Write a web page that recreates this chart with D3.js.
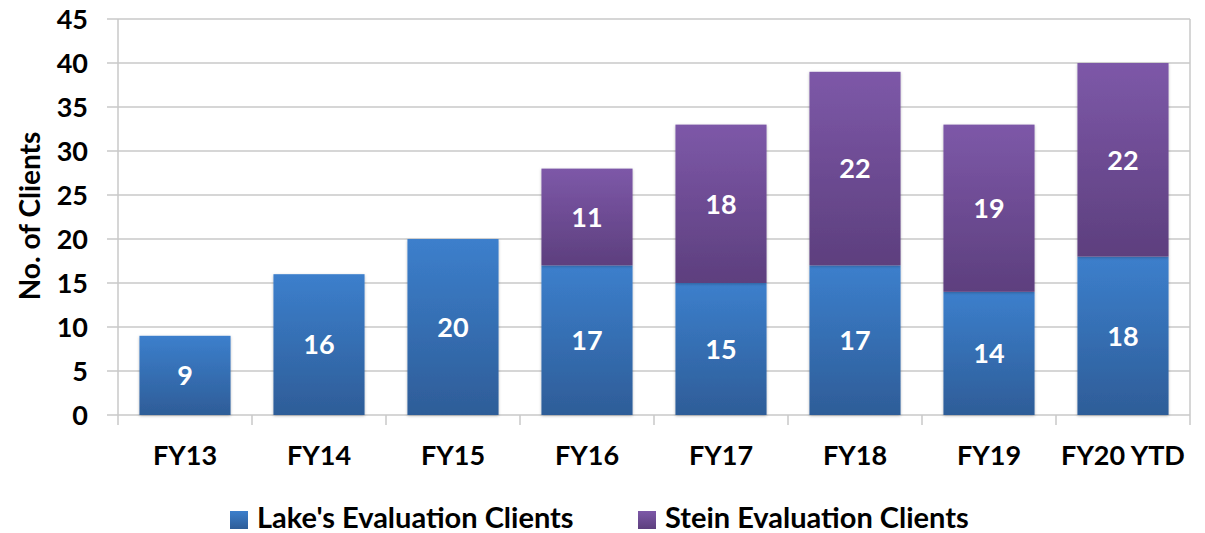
<!DOCTYPE html>
<html>
<head>
<meta charset="utf-8">
<script src="https://cdn.jsdelivr.net/npm/d3@7"></script>
<style>
  body { margin: 0; background: #fff; }
  text { font-family: Lato, "Open Sans", sans-serif; font-weight: 700; }
</style>
</head>
<body>
<div class="chart"></div>
<script>
// chart data
const categories = ["FY13", "FY14", "FY15", "FY16", "FY17", "FY18", "FY19", "FY20 YTD"];
const lakeValues = [9, 16, 20, 17, 15, 17, 14, 18];
const steinValues = [0, 0, 0, 11, 18, 22, 19, 22];
const seriesNames = ["Lake's Evaluation Clients", "Stein Evaluation Clients"];
const yTicks = [0, 5, 10, 15, 20, 25, 30, 35, 40, 45];

const width = 1205, height = 533;
const margin = {top: 19, right: 15, bottom: 118, left: 118};

const svg = d3.select('.chart')
              .append('svg')
              .attr('width', width)
              .attr('height', height);

const defs = svg.append("defs");
function grad(id, top, bottom) {
  const g = defs.append("linearGradient")
                .attr("id", id)
                .attr("x1", 0).attr("y1", 0).attr("x2", 0).attr("y2", 1);
  g.append("stop").attr("offset", "0%").attr("stop-color", top);
  g.append("stop").attr("offset", "100%").attr("stop-color", bottom);
}
grad("blueGrad", "#3c7fcc", "#2e5d98");
grad("purpleGrad", "#7d58a8", "#5d3f7e");

const shadow = defs.append("filter").attr("id", "shadow")
                   .attr("x", "-10%").attr("y", "-10%").attr("width", "120%").attr("height", "120%");
shadow.append("feDropShadow").attr("dx", 0).attr("dy", 1).attr("stdDeviation", 1.5)
      .attr("flood-color", "#000").attr("flood-opacity", 0.25);

const x = d3.scaleBand()
            .domain(categories)
            .range([margin.left, width - margin.right])
            .paddingInner(0.32)
            .paddingOuter(0.16);

const y = d3.scaleLinear()
            .domain([0, 45])
            .range([height - margin.bottom, margin.top]);

const x0 = margin.left, x1 = width - margin.right;
const step = (x1 - x0) / categories.length;

// grid lines + y ticks
svg.append("g")
   .selectAll("line")
   .data(yTicks)
   .enter()
   .append("line")
   .attr("x1", x0 - 11).attr("x2", x1)
   .attr("y1", d => y(d)).attr("y2", d => y(d))
   .attr("stroke", "#c8c8c8").attr("stroke-width", 1.5);

// right border
svg.append("line")
   .attr("x1", x1).attr("x2", x1)
   .attr("y1", y(45)).attr("y2", y(0))
   .attr("stroke", "#c8c8c8").attr("stroke-width", 1.5);

// y axis line
svg.append("line")
   .attr("x1", x0).attr("x2", x0)
   .attr("y1", y(45)).attr("y2", y(0) + 10)
   .attr("stroke", "#c8c8c8").attr("stroke-width", 1.5);

// category ticks
svg.append("g")
   .selectAll("line")
   .data(d3.range(1, categories.length + 1))
   .enter()
   .append("line")
   .attr("x1", i => x0 + i * step).attr("x2", i => x0 + i * step)
   .attr("y1", y(0)).attr("y2", y(0) + 10)
   .attr("stroke", "#c8c8c8").attr("stroke-width", 1.5);

// y tick labels
svg.append("g")
   .selectAll("text")
   .data(yTicks)
   .enter()
   .append("text")
   .attr("x", x0 - 30)
   .attr("y", d => y(d))
   .attr("dy", "0.36em")
   .attr("text-anchor", "end")
   .style("font-size", "27px")
   .text(d => d);

// x labels
svg.append("g")
   .selectAll("text")
   .data(categories)
   .enter()
   .append("text")
   .attr("x", d => x(d) + x.bandwidth() / 2)
   .attr("y", 465)
   .attr("text-anchor", "middle")
   .style("font-size", "27px")
   .text(d => d);

// y title
svg.append("text")
   .attr("transform", "translate(40," + 216 + ") rotate(-90)")
   .attr("text-anchor", "middle")
   .style("font-size", "28px")
   .text("No. of Clients");

// stacked data
const rows = categories.map((c, i) => ({cat: c, lake: lakeValues[i], stein: steinValues[i]}));
const stack = d3.stack().keys(["lake", "stein"])(rows);
const fills = ["url(#blueGrad)", "url(#purpleGrad)"];

const layers = svg.append("g")
   .selectAll("g")
   .data(stack)
   .enter()
   .append("g");

layers.selectAll("rect")
   .data((s, si) => s.filter(d => d[1] > d[0]).map(d => ({d: d, si: si})))
   .enter()
   .append("rect")
   .attr("x", o => x(o.d.data.cat))
   .attr("width", x.bandwidth())
   .attr("y", o => y(o.d[1]))
   .attr("height", o => y(o.d[0]) - y(o.d[1]))
   .attr("fill", o => fills[o.si])
   .attr("filter", "url(#shadow)");

layers.selectAll("text")
   .data(s => s.filter(d => d[1] > d[0]))
   .enter()
   .append("text")
   .attr("x", d => x(d.data.cat) + x.bandwidth() / 2)
   .attr("y", d => y((d[0] + d[1]) / 2))
   .attr("dy", "0.36em")
   .attr("text-anchor", "middle")
   .attr("fill", "#fff")
   .style("font-size", "27px")
   .text(d => d[1] - d[0]);

// legend
const legendX = [230, 638];
const legend = svg.append("g")
   .selectAll("g")
   .data(seriesNames)
   .enter()
   .append("g")
   .attr("transform", (d, i) => "translate(" + legendX[i] + ",511)");
legend.append("rect")
   .attr("width", 18).attr("height", 18).attr("y", 0)
   .attr("fill", (d, i) => fills[i]);
legend.append("text")
   .attr("x", 27)
   .attr("y", 17)
   .style("font-size", "29px")
   .text(d => d);
</script>
</body>
</html>
